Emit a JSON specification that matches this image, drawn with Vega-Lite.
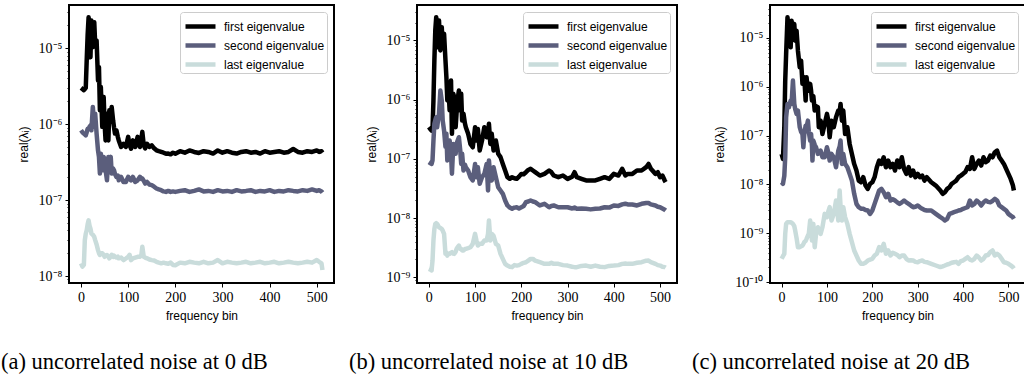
{
  "$schema": "https://vega.github.io/schema/vega-lite/v6.json",
  "padding": {"left": 0, "top": 4, "right": 0, "bottom": 0},
  "spacing": 13,
  "background": "white",
  "config": {
    "view": {"stroke": "black", "strokeWidth": 2},
    "axis": {"grid": false, "domain": false, "tickColor": "black", "labelFont": "Liberation Serif", "labelFontSize": 14, "labelColor": "black", "titleFont": "Liberation Sans", "titleFontSize": 12, "titleFontWeight": "normal", "titleColor": "black", "tickWidth": 1},
    "legend": {"orient": "top-right", "offset": 7, "title": null, "symbolType": "M-1.5,0H1.5", "symbolStrokeWidth": 4.5, "symbolSize": 400, "symbolOffset": 6, "labelFont": "Liberation Sans", "labelFontSize": 12, "labelColor": "black", "strokeColor": "#cccccc", "fillColor": "white", "cornerRadius": 3, "padding": 2, "rowPadding": 0, "labelOffset": 11},
    "title": {"font": "Liberation Serif", "fontSize": 22.5, "fontWeight": "normal", "color": "black"},
    "line": {"strokeWidth": 4.5, "strokeJoin": "round"}
  },
  "resolve": {"scale": {"color": "independent", "y": "independent"}, "legend": {"color": "independent"}},
  "datasets": {
    "a": [
      {"x":0,"first":3.0e-6,"second":8.3e-7,"last":1.47e-8},
      {"x":3,"first":2.9e-6,"second":7.8e-7,"last":1.33e-8},
      {"x":6,"first":2.8e-6,"second":7.5e-7,"last":1.4e-8},
      {"x":8,"first":2.9e-6,"second":7.3e-7,"last":2.97e-8},
      {"x":10,"first":3.0e-6,"second":7.1e-7,"last":3.6e-8},
      {"x":12,"first":6.9e-6,"second":7.8e-7,"last":4.0e-8},
      {"x":14,"first":1.5e-5,"second":8.7e-7,"last":4.8e-8},
      {"x":16,"first":2.55e-5,"second":8.7e-7,"last":5.4e-8},
      {"x":18,"first":1.89e-5,"second":9.2e-7,"last":4.6e-8},
      {"x":20,"first":7.6e-6,"second":9.6e-7,"last":4.2e-8},
      {"x":22,"first":2.31e-5,"second":8.3e-7,"last":3.63e-8},
      {"x":25,"first":1.03e-5,"second":1.68e-6,"last":3.5e-8},
      {"x":28,"first":2.2e-5,"second":9.2e-7,"last":3.28e-8},
      {"x":30,"first":1.14e-5,"second":1.37e-6,"last":2.97e-8},
      {"x":33,"first":1.26e-5,"second":7.5e-7,"last":2.6e-8},
      {"x":36,"first":3.76e-6,"second":4.5e-7,"last":2.19e-8},
      {"x":38,"first":5.62e-6,"second":3.7e-7,"last":2.0e-8},
      {"x":40,"first":1.52e-6,"second":2.23e-7,"last":1.89e-8},
      {"x":42,"first":3.08e-6,"second":4.08e-7,"last":2.0e-8},
      {"x":45,"first":9.2e-7,"second":2.47e-7,"last":1.99e-8},
      {"x":48,"first":2.27e-6,"second":3.7e-7,"last":1.9e-8},
      {"x":50,"first":1.0e-6,"second":3.34e-7,"last":1.79e-8},
      {"x":52,"first":6.1e-7,"second":2.5e-7,"last":1.85e-8},
      {"x":55,"first":1.37e-6,"second":1.82e-7,"last":1.89e-8},
      {"x":58,"first":6.1e-7,"second":3.7e-7,"last":1.8e-8},
      {"x":60,"first":1.52e-6,"second":3.0e-7,"last":1.71e-8},
      {"x":63,"first":1.2e-6,"second":3.7e-7,"last":1.8e-8},
      {"x":65,"first":1.68e-6,"second":2.23e-7,"last":1.9e-8},
      {"x":68,"first":1.12e-6,"second":2.6e-7,"last":1.79e-8},
      {"x":70,"first":9.0e-7,"second":2.47e-7,"last":1.85e-8},
      {"x":72,"first":7.5e-7,"second":2.2e-7,"last":1.79e-8},
      {"x":75,"first":8.3e-7,"second":2.02e-7,"last":1.75e-8},
      {"x":78,"first":6.8e-7,"second":2.1e-7,"last":1.8e-8},
      {"x":80,"first":6.1e-7,"second":1.82e-7,"last":1.71e-8},
      {"x":85,"first":5.0e-7,"second":2.02e-7,"last":1.75e-8},
      {"x":90,"first":5.5e-7,"second":1.73e-7,"last":1.62e-8},
      {"x":95,"first":5.0e-7,"second":1.73e-7,"last":1.7e-8},
      {"x":100,"first":6.8e-7,"second":2.02e-7,"last":1.79e-8},
      {"x":103,"first":5.3e-7,"second":1.9e-7,"last":1.9e-8},
      {"x":106,"first":4.75e-7,"second":1.82e-7,"last":1.62e-8},
      {"x":110,"first":6.1e-7,"second":2.02e-7,"last":1.71e-8},
      {"x":115,"first":5.0e-7,"second":1.73e-7,"last":1.75e-8},
      {"x":120,"first":6.8e-7,"second":1.82e-7,"last":1.79e-8},
      {"x":125,"first":5.0e-7,"second":2.02e-7,"last":1.79e-8},
      {"x":128,"first":6.5e-7,"second":1.9e-7,"last":1.9e-8},
      {"x":130,"first":7.9e-7,"second":1.92e-7,"last":2.43e-8},
      {"x":133,"first":5.3e-7,"second":1.8e-7,"last":1.79e-8},
      {"x":136,"first":4.8e-7,"second":1.65e-7,"last":1.75e-8},
      {"x":140,"first":5.5e-7,"second":1.73e-7,"last":1.71e-8},
      {"x":145,"first":5.0e-7,"second":1.6e-7,"last":1.65e-8},
      {"x":150,"first":5.26e-7,"second":1.57e-7,"last":1.62e-8},
      {"x":155,"first":4.8e-7,"second":1.5e-7,"last":1.6e-8},
      {"x":160,"first":4.52e-7,"second":1.42e-7,"last":1.54e-8},
      {"x":165,"first":4.4e-7,"second":1.38e-7,"last":1.5e-8},
      {"x":170,"first":4.3e-7,"second":1.35e-7,"last":1.47e-8},
      {"x":175,"first":4.2e-7,"second":1.3e-7,"last":1.5e-8},
      {"x":180,"first":4.08e-7,"second":1.28e-7,"last":1.47e-8},
      {"x":185,"first":4.1e-7,"second":1.32e-7,"last":1.45e-8},
      {"x":190,"first":4.0e-7,"second":1.28e-7,"last":1.5e-8},
      {"x":195,"first":4.2e-7,"second":1.3e-7,"last":1.4e-8},
      {"x":200,"first":4.08e-7,"second":1.28e-7,"last":1.39e-8},
      {"x":210,"first":4.4e-7,"second":1.32e-7,"last":1.5e-8},
      {"x":220,"first":4.2e-7,"second":1.35e-7,"last":1.47e-8},
      {"x":230,"first":4.5e-7,"second":1.28e-7,"last":1.54e-8},
      {"x":240,"first":4.3e-7,"second":1.32e-7,"last":1.5e-8},
      {"x":250,"first":4.17e-7,"second":1.38e-7,"last":1.47e-8},
      {"x":260,"first":4.4e-7,"second":1.3e-7,"last":1.54e-8},
      {"x":270,"first":4.3e-7,"second":1.32e-7,"last":1.47e-8},
      {"x":280,"first":4.1e-7,"second":1.28e-7,"last":1.5e-8},
      {"x":290,"first":4.5e-7,"second":1.35e-7,"last":1.62e-8},
      {"x":300,"first":4.2e-7,"second":1.3e-7,"last":1.47e-8},
      {"x":310,"first":4.4e-7,"second":1.32e-7,"last":1.54e-8},
      {"x":320,"first":4.2e-7,"second":1.28e-7,"last":1.5e-8},
      {"x":330,"first":4.1e-7,"second":1.35e-7,"last":1.47e-8},
      {"x":340,"first":4.3e-7,"second":1.3e-7,"last":1.5e-8},
      {"x":350,"first":4.4e-7,"second":1.32e-7,"last":1.54e-8},
      {"x":360,"first":4.2e-7,"second":1.35e-7,"last":1.47e-8},
      {"x":370,"first":4.3e-7,"second":1.28e-7,"last":1.5e-8},
      {"x":380,"first":4.1e-7,"second":1.32e-7,"last":1.54e-8},
      {"x":390,"first":4.4e-7,"second":1.3e-7,"last":1.47e-8},
      {"x":400,"first":4.2e-7,"second":1.35e-7,"last":1.5e-8},
      {"x":410,"first":4.3e-7,"second":1.28e-7,"last":1.54e-8},
      {"x":420,"first":4.4e-7,"second":1.32e-7,"last":1.47e-8},
      {"x":430,"first":4.2e-7,"second":1.3e-7,"last":1.5e-8},
      {"x":440,"first":4.3e-7,"second":1.35e-7,"last":1.54e-8},
      {"x":450,"first":4.7e-7,"second":1.32e-7,"last":1.5e-8},
      {"x":460,"first":4.3e-7,"second":1.3e-7,"last":1.47e-8},
      {"x":470,"first":4.2e-7,"second":1.35e-7,"last":1.5e-8},
      {"x":480,"first":4.4e-7,"second":1.32e-7,"last":1.54e-8},
      {"x":490,"first":4.3e-7,"second":1.38e-7,"last":1.5e-8},
      {"x":500,"first":4.5e-7,"second":1.32e-7,"last":1.62e-8},
      {"x":505,"first":4.3e-7,"second":1.35e-7,"last":1.54e-8},
      {"x":510,"first":4.4e-7,"second":1.3e-7,"last":1.47e-8},
      {"x":512,"first":4.2e-7,"second":1.25e-7,"last":1.2e-8}
    ],
    "b": [
      {"x":0,"first":3.43e-7,"second":8.8e-8,"last":1.38e-9},
      {"x":3,"first":3.2e-7,"second":8.5e-8,"last":1.35e-9},
      {"x":6,"first":3.0e-7,"second":8.2e-8,"last":1.3e-9},
      {"x":8,"first":3.2e-7,"second":9.4e-8,"last":1.91e-9},
      {"x":10,"first":9.7e-7,"second":2.04e-7,"last":4.17e-9},
      {"x":12,"first":4.6e-6,"second":3.9e-7,"last":6.5e-9},
      {"x":14,"first":1.5e-5,"second":4.5e-7,"last":7.96e-9},
      {"x":16,"first":2.48e-5,"second":5.06e-7,"last":8.2e-9},
      {"x":18,"first":1.48e-5,"second":3.43e-7,"last":7.96e-9},
      {"x":20,"first":7.7e-6,"second":4.5e-7,"last":7.5e-9},
      {"x":22,"first":2.18e-5,"second":5.77e-7,"last":7.0e-9},
      {"x":25,"first":6.8e-6,"second":1.43e-6,"last":6.8e-9},
      {"x":28,"first":1.68e-5,"second":9.7e-7,"last":6.5e-9},
      {"x":30,"first":7.7e-6,"second":4.45e-7,"last":6.15e-9},
      {"x":33,"first":1.3e-5,"second":3.0e-7,"last":5.4e-9},
      {"x":36,"first":4.6e-6,"second":1.6e-7,"last":2.48e-9},
      {"x":38,"first":2.4e-6,"second":2.65e-7,"last":2.6e-9},
      {"x":40,"first":9.7e-7,"second":9.4e-8,"last":2.32e-9},
      {"x":42,"first":1.85e-6,"second":1.57e-7,"last":2.5e-9},
      {"x":45,"first":6.6e-7,"second":2.04e-7,"last":2.48e-9},
      {"x":48,"first":2.11e-6,"second":1.22e-7,"last":2.6e-9},
      {"x":50,"first":2.65e-7,"second":5.6e-8,"last":2.65e-9},
      {"x":53,"first":1.26e-6,"second":1.79e-7,"last":2.5e-9},
      {"x":55,"first":1.1e-6,"second":1.4e-7,"last":2.48e-9},
      {"x":58,"first":3.43e-7,"second":1.22e-7,"last":2.7e-9},
      {"x":60,"first":6.0e-7,"second":1.79e-7,"last":3.01e-9},
      {"x":62,"first":9.7e-7,"second":2.0e-7,"last":3.2e-9},
      {"x":65,"first":1.43e-6,"second":2.32e-7,"last":3.43e-9},
      {"x":68,"first":6.56e-7,"second":1.38e-7,"last":3.0e-9},
      {"x":70,"first":1.26e-6,"second":8.2e-8,"last":3.01e-9},
      {"x":72,"first":4.45e-7,"second":1.22e-7,"last":2.83e-9},
      {"x":75,"first":5.77e-7,"second":6.35e-8,"last":2.83e-9},
      {"x":78,"first":4.0e-7,"second":8.0e-8,"last":3.0e-9},
      {"x":80,"first":3.43e-7,"second":7.23e-8,"last":3.01e-9},
      {"x":85,"first":2.65e-7,"second":6.35e-8,"last":3.1e-9},
      {"x":90,"first":1.79e-7,"second":4.9e-8,"last":3.21e-9},
      {"x":95,"first":1.57e-7,"second":4.31e-8,"last":3.66e-9},
      {"x":100,"first":3.43e-7,"second":8.2e-8,"last":5.4e-9},
      {"x":103,"first":2.04e-7,"second":4.9e-8,"last":4.17e-9},
      {"x":106,"first":3.2e-7,"second":7.2e-8,"last":3.43e-9},
      {"x":110,"first":1.38e-7,"second":3.78e-8,"last":3.66e-9},
      {"x":115,"first":2.04e-7,"second":4.9e-8,"last":3.66e-9},
      {"x":120,"first":3.43e-7,"second":5.57e-8,"last":4.17e-9},
      {"x":125,"first":2.32e-7,"second":8.2e-8,"last":4.17e-9},
      {"x":128,"first":2.8e-7,"second":2.92e-8,"last":5.4e-9},
      {"x":130,"first":3.91e-7,"second":9.4e-8,"last":9.1e-9},
      {"x":133,"first":1.79e-7,"second":5.0e-8,"last":4.17e-9},
      {"x":136,"first":2.65e-7,"second":4.31e-8,"last":5.4e-9},
      {"x":140,"first":1.38e-7,"second":7.2e-8,"last":5.0e-9},
      {"x":145,"first":2.04e-7,"second":4.9e-8,"last":3.66e-9},
      {"x":150,"first":1.22e-7,"second":3.32e-8,"last":3.43e-9},
      {"x":155,"first":1.07e-7,"second":2.92e-8,"last":2.48e-9},
      {"x":160,"first":8.2e-8,"second":2.56e-8,"last":2.04e-9},
      {"x":165,"first":6.35e-8,"second":1.98e-8,"last":1.68e-9},
      {"x":170,"first":4.9e-8,"second":1.63e-8,"last":1.57e-9},
      {"x":175,"first":4.6e-8,"second":1.5e-8,"last":1.5e-9},
      {"x":180,"first":4.9e-8,"second":1.43e-8,"last":1.48e-9},
      {"x":185,"first":4.7e-8,"second":1.5e-8,"last":1.6e-9},
      {"x":190,"first":4.59e-8,"second":1.52e-8,"last":1.57e-9},
      {"x":195,"first":5.0e-8,"second":1.45e-8,"last":1.6e-9},
      {"x":200,"first":5.57e-8,"second":1.52e-8,"last":1.68e-9},
      {"x":205,"first":5.5e-8,"second":1.6e-8,"last":1.75e-9},
      {"x":210,"first":5.95e-8,"second":1.85e-8,"last":1.79e-9},
      {"x":215,"first":6.5e-8,"second":1.9e-8,"last":1.91e-9},
      {"x":220,"first":6.78e-8,"second":1.98e-8,"last":2.04e-9},
      {"x":225,"first":6.35e-8,"second":1.9e-8,"last":2.04e-9},
      {"x":230,"first":5.95e-8,"second":1.85e-8,"last":1.9e-9},
      {"x":240,"first":5.23e-8,"second":1.63e-8,"last":1.79e-9},
      {"x":250,"first":5.57e-8,"second":1.74e-8,"last":1.68e-9},
      {"x":260,"first":6.35e-8,"second":1.52e-8,"last":1.68e-9},
      {"x":265,"first":5.95e-8,"second":1.6e-8,"last":1.75e-9},
      {"x":270,"first":5.23e-8,"second":1.63e-8,"last":1.68e-9},
      {"x":280,"first":4.9e-8,"second":1.52e-8,"last":1.68e-9},
      {"x":290,"first":5.23e-8,"second":1.52e-8,"last":1.6e-9},
      {"x":300,"first":4.59e-8,"second":1.52e-8,"last":1.57e-9},
      {"x":310,"first":5.0e-8,"second":1.45e-8,"last":1.5e-9},
      {"x":315,"first":5.95e-8,"second":1.5e-8,"last":1.48e-9},
      {"x":320,"first":4.9e-8,"second":1.43e-8,"last":1.48e-9},
      {"x":330,"first":4.59e-8,"second":1.45e-8,"last":1.55e-9},
      {"x":340,"first":4.31e-8,"second":1.43e-8,"last":1.57e-9},
      {"x":350,"first":4.31e-8,"second":1.4e-8,"last":1.5e-9},
      {"x":360,"first":4.31e-8,"second":1.43e-8,"last":1.57e-9},
      {"x":370,"first":4.59e-8,"second":1.45e-8,"last":1.5e-9},
      {"x":380,"first":4.9e-8,"second":1.52e-8,"last":1.48e-9},
      {"x":390,"first":4.59e-8,"second":1.5e-8,"last":1.55e-9},
      {"x":400,"first":5.57e-8,"second":1.63e-8,"last":1.57e-9},
      {"x":410,"first":5.23e-8,"second":1.6e-8,"last":1.6e-9},
      {"x":418,"first":6.78e-8,"second":1.7e-8,"last":1.68e-9},
      {"x":425,"first":5.23e-8,"second":1.74e-8,"last":1.7e-9},
      {"x":430,"first":5.57e-8,"second":1.7e-8,"last":1.68e-9},
      {"x":440,"first":5.57e-8,"second":1.69e-8,"last":1.68e-9},
      {"x":450,"first":6.35e-8,"second":1.63e-8,"last":1.75e-9},
      {"x":460,"first":6.35e-8,"second":1.74e-8,"last":1.79e-9},
      {"x":470,"first":7.23e-8,"second":1.79e-8,"last":1.9e-9},
      {"x":475,"first":8.2e-8,"second":1.79e-8,"last":1.91e-9},
      {"x":480,"first":6.78e-8,"second":1.7e-8,"last":1.8e-9},
      {"x":490,"first":5.57e-8,"second":1.63e-8,"last":1.68e-9},
      {"x":495,"first":5.95e-8,"second":1.55e-8,"last":1.6e-9},
      {"x":500,"first":4.9e-8,"second":1.52e-8,"last":1.57e-9},
      {"x":505,"first":5.23e-8,"second":1.45e-8,"last":1.5e-9},
      {"x":510,"first":4.3e-8,"second":1.38e-8,"last":1.48e-9},
      {"x":512,"first":4.04e-8,"second":1.34e-8,"last":1.45e-9}
    ],
    "c": [
      {"x":0,"first":4.23e-8,"second":1.11e-8,"last":3.0e-10},
      {"x":3,"first":3.34e-8,"second":1.03e-8,"last":3.4e-10},
      {"x":6,"first":1.49e-7,"second":1.5e-8,"last":3.8e-10},
      {"x":8,"first":1.34e-6,"second":3.61e-8,"last":9.75e-10},
      {"x":10,"first":4.71e-6,"second":2.38e-7,"last":1.56e-9},
      {"x":13,"first":2.65e-5,"second":4.46e-7,"last":1.69e-9},
      {"x":16,"first":1.41e-5,"second":3.81e-7,"last":1.69e-9},
      {"x":20,"first":6.44e-6,"second":5.22e-7,"last":1.69e-9},
      {"x":22,"first":2.26e-5,"second":4.5e-7,"last":1.65e-9},
      {"x":25,"first":1.21e-5,"second":1.34e-6,"last":1.56e-9},
      {"x":28,"first":1.93e-5,"second":4.46e-7,"last":1.4e-9},
      {"x":30,"first":8.82e-6,"second":3.5e-7,"last":1.14e-9},
      {"x":33,"first":1.41e-5,"second":2.79e-7,"last":8.0e-10},
      {"x":36,"first":5.5e-6,"second":3.26e-7,"last":5.2e-10},
      {"x":40,"first":2.51e-6,"second":1.49e-7,"last":5.2e-10},
      {"x":43,"first":3.44e-6,"second":1.2e-7,"last":5.4e-10},
      {"x":46,"first":1.15e-6,"second":1.08e-7,"last":5.62e-10},
      {"x":48,"first":1.57e-6,"second":5.79e-8,"last":6.0e-10},
      {"x":50,"first":1.57e-6,"second":1.08e-7,"last":6.59e-10},
      {"x":53,"first":5.22e-7,"second":1.6e-7,"last":7.0e-10},
      {"x":55,"first":1.57e-6,"second":1.49e-7,"last":7.71e-10},
      {"x":58,"first":8.35e-7,"second":2.03e-7,"last":9.0e-10},
      {"x":60,"first":8.35e-7,"second":1.2e-7,"last":9.75e-10},
      {"x":63,"first":1.15e-6,"second":7.92e-8,"last":1.83e-9},
      {"x":65,"first":8.35e-7,"second":1.08e-7,"last":1.2e-9},
      {"x":67,"first":5.22e-7,"second":6.0e-8,"last":7.13e-10},
      {"x":68,"first":6.0e-7,"second":3.09e-8,"last":9.0e-10},
      {"x":70,"first":6.44e-7,"second":7.92e-8,"last":1.56e-9},
      {"x":73,"first":3.26e-7,"second":6.5e-8,"last":5.2e-10},
      {"x":76,"first":4.0e-7,"second":5.79e-8,"last":9.75e-10},
      {"x":80,"first":3.81e-7,"second":4.23e-8,"last":1.33e-9},
      {"x":82,"first":1.49e-7,"second":4.5e-8,"last":1.2e-9},
      {"x":86,"first":2.03e-7,"second":4.94e-8,"last":9.75e-10},
      {"x":90,"first":1.08e-7,"second":3.61e-8,"last":1.33e-9},
      {"x":95,"first":1.74e-7,"second":3.61e-8,"last":2.5e-9},
      {"x":100,"first":2.79e-7,"second":5.79e-8,"last":2.14e-9},
      {"x":103,"first":2.03e-7,"second":4.5e-8,"last":2.8e-9},
      {"x":106,"first":9.27e-8,"second":3.09e-8,"last":3.43e-9},
      {"x":110,"first":2.03e-7,"second":4.23e-8,"last":1.83e-9},
      {"x":115,"first":1.49e-7,"second":3.61e-8,"last":2.5e-9},
      {"x":120,"first":2.38e-7,"second":2.26e-8,"last":4.69e-9},
      {"x":125,"first":3.26e-7,"second":4.94e-8,"last":1.83e-9},
      {"x":128,"first":3.0e-7,"second":6.0e-8,"last":7.52e-9},
      {"x":130,"first":4.46e-7,"second":7.92e-8,"last":3.5e-9},
      {"x":133,"first":2.03e-7,"second":2.64e-8,"last":1.83e-9},
      {"x":136,"first":3.26e-7,"second":4.23e-8,"last":3.43e-9},
      {"x":140,"first":1.08e-7,"second":2.64e-8,"last":2.14e-9},
      {"x":145,"first":1.49e-7,"second":2.26e-8,"last":1.56e-9},
      {"x":150,"first":6.77e-8,"second":1.65e-8,"last":9.75e-10},
      {"x":155,"first":4.23e-8,"second":1.2e-8,"last":6.59e-10},
      {"x":160,"first":2.64e-8,"second":6.43e-9,"last":4.45e-10},
      {"x":165,"first":1.93e-8,"second":4.01e-9,"last":3.51e-10},
      {"x":170,"first":1.2e-8,"second":3.43e-9,"last":2.77e-10},
      {"x":175,"first":1.11e-8,"second":3.2e-9,"last":2.37e-10},
      {"x":180,"first":1.41e-8,"second":3.17e-9,"last":2.37e-10},
      {"x":185,"first":9.5e-9,"second":3.0e-9,"last":2.5e-10},
      {"x":190,"first":8.12e-9,"second":2.93e-9,"last":2.77e-10},
      {"x":195,"first":1.03e-8,"second":2.5e-9,"last":2.9e-10},
      {"x":200,"first":1.11e-8,"second":2.93e-9,"last":3.0e-10},
      {"x":205,"first":1.41e-8,"second":4.01e-9,"last":3.5e-10},
      {"x":210,"first":2.26e-8,"second":5.49e-9,"last":3.8e-10},
      {"x":215,"first":3.09e-8,"second":7.52e-9,"last":5.2e-10},
      {"x":220,"first":2.64e-8,"second":8.12e-9,"last":4.45e-10},
      {"x":225,"first":3.61e-8,"second":6.95e-9,"last":6.08e-10},
      {"x":230,"first":2.26e-8,"second":5.49e-9,"last":3.8e-10},
      {"x":235,"first":3.09e-8,"second":6.43e-9,"last":4.45e-10},
      {"x":240,"first":2.26e-8,"second":4.69e-9,"last":3.51e-10},
      {"x":245,"first":2.64e-8,"second":5.0e-9,"last":4.0e-10},
      {"x":250,"first":1.93e-8,"second":4.69e-9,"last":3.8e-10},
      {"x":255,"first":3.09e-8,"second":4.3e-9,"last":3.6e-10},
      {"x":260,"first":2.26e-8,"second":4.01e-9,"last":3.24e-10},
      {"x":265,"first":3.61e-8,"second":4.3e-9,"last":3.5e-10},
      {"x":270,"first":2.08e-8,"second":4.69e-9,"last":3.51e-10},
      {"x":275,"first":1.65e-8,"second":4.3e-9,"last":3.0e-10},
      {"x":280,"first":2.26e-8,"second":4.01e-9,"last":2.77e-10},
      {"x":285,"first":1.52e-8,"second":3.7e-9,"last":2.8e-10},
      {"x":290,"first":1.93e-8,"second":3.43e-9,"last":2.77e-10},
      {"x":295,"first":1.41e-8,"second":3.5e-9,"last":2.6e-10},
      {"x":300,"first":1.65e-8,"second":3.71e-9,"last":2.56e-10},
      {"x":305,"first":1.41e-8,"second":3.4e-9,"last":2.7e-10},
      {"x":310,"first":1.52e-8,"second":3.17e-9,"last":2.77e-10},
      {"x":315,"first":1.2e-8,"second":3.0e-9,"last":2.6e-10},
      {"x":320,"first":1.41e-8,"second":2.93e-9,"last":2.56e-10},
      {"x":330,"first":1.11e-8,"second":2.93e-9,"last":2.37e-10},
      {"x":340,"first":9.5e-9,"second":2.5e-9,"last":2.19e-10},
      {"x":350,"first":7.52e-9,"second":2.14e-9,"last":2.03e-10},
      {"x":355,"first":6.43e-9,"second":2.0e-9,"last":2.1e-10},
      {"x":360,"first":6.95e-9,"second":1.83e-9,"last":2.19e-10},
      {"x":365,"first":8.12e-9,"second":1.98e-9,"last":2.3e-10},
      {"x":370,"first":8.8e-9,"second":2.5e-9,"last":2.37e-10},
      {"x":375,"first":1.03e-8,"second":2.6e-9,"last":2.5e-10},
      {"x":380,"first":1.11e-8,"second":2.71e-9,"last":2.56e-10},
      {"x":385,"first":1.2e-8,"second":2.8e-9,"last":2.6e-10},
      {"x":390,"first":1.41e-8,"second":2.93e-9,"last":2.37e-10},
      {"x":395,"first":1.52e-8,"second":3.0e-9,"last":2.7e-10},
      {"x":400,"first":1.65e-8,"second":3.17e-9,"last":2.77e-10},
      {"x":405,"first":1.8e-8,"second":3.3e-9,"last":3.0e-10},
      {"x":410,"first":2.26e-8,"second":3.43e-9,"last":3.24e-10},
      {"x":415,"first":2.08e-8,"second":4.69e-9,"last":2.9e-10},
      {"x":420,"first":3.61e-8,"second":3.71e-9,"last":2.77e-10},
      {"x":425,"first":2.08e-8,"second":4.01e-9,"last":3.0e-10},
      {"x":430,"first":2.64e-8,"second":4.69e-9,"last":3.51e-10},
      {"x":435,"first":3.09e-8,"second":4.3e-9,"last":3.2e-10},
      {"x":440,"first":2.44e-8,"second":3.71e-9,"last":2.77e-10},
      {"x":445,"first":3.61e-8,"second":4.3e-9,"last":3.0e-10},
      {"x":450,"first":2.86e-8,"second":4.69e-9,"last":3.51e-10},
      {"x":455,"first":3.09e-8,"second":4.4e-9,"last":3.6e-10},
      {"x":460,"first":3.91e-8,"second":4.34e-9,"last":4.11e-10},
      {"x":465,"first":3.61e-8,"second":4.6e-9,"last":4.45e-10},
      {"x":470,"first":4.57e-8,"second":5.07e-9,"last":3.51e-10},
      {"x":475,"first":4.94e-8,"second":4.69e-9,"last":3.8e-10},
      {"x":480,"first":3.61e-8,"second":3.71e-9,"last":3.51e-10},
      {"x":485,"first":3.09e-8,"second":3.43e-9,"last":3.0e-10},
      {"x":490,"first":2.64e-8,"second":3.17e-9,"last":2.56e-10},
      {"x":495,"first":2.08e-8,"second":2.93e-9,"last":2.5e-10},
      {"x":500,"first":1.65e-8,"second":2.5e-9,"last":2.37e-10},
      {"x":505,"first":1.3e-8,"second":2.3e-9,"last":2.2e-10},
      {"x":510,"first":9.5e-9,"second":2.14e-9,"last":2.03e-10},
      {"x":512,"first":7.52e-9,"second":1.98e-9,"last":1.9e-10}
    ]
  },
  "hconcat": [
    {
      "width": 265, "height": 278,
      "data": {"name": "a"},
      "title": {"text": "(a) uncorrelated noise at 0 dB", "orient": "bottom", "anchor": "start", "frame": "group", "dx": -68, "offset": 30},
      "transform": [{"fold": ["first", "second", "last"], "as": ["s", "v"]}],
      "mark": {"type": "line", "strokeWidth": 4.5, "strokeJoin": "round"},
      "encoding": {
        "x": {"field": "x", "type": "quantitative", "scale": {"domain": [-25.55, 536.55], "nice": false, "zero": false},
              "axis": {"values": [0, 100, 200, 300, 400, 500], "title": "frequency bin", "tickSize": 4, "labelPadding": 3, "titlePadding": 6}},
        "y": {"field": "v", "type": "quantitative", "scale": {"type": "log", "domain": [8.09e-9, 3.7e-5], "nice": false},
              "axis": {"values": [9e-9, 1e-8, 2e-8, 3e-8, 4e-8, 5e-8, 6e-8, 7e-8, 8e-8, 9e-8, 1e-7, 2e-7, 3e-7, 4e-7, 5e-7, 6e-7, 7e-7, 8e-7, 9e-7, 1e-6, 2e-6, 3e-6, 4e-6, 5e-6, 6e-6, 7e-6, 8e-6, 9e-6, 1e-5, 2e-5, 3e-5],
                       "labelExpr": "indexof([1e-5,1e-6,1e-7,1e-8,1e-9,1e-10], datum.value) < 0 ? '' : '10' + ['⁻⁵','⁻⁶','⁻⁷','⁻⁸','⁻⁹','⁻¹⁰'][indexof([1e-5,1e-6,1e-7,1e-8,1e-9,1e-10], datum.value)]",
                       "tickSize": {"condition": {"test": "indexof([1e-5,1e-6,1e-7,1e-8,1e-9,1e-10], datum.value) >= 0", "value": 4}, "value": 2},
                       "labelPadding": 3, "title": "real(λᵢ)", "titlePadding": 8}},
        "color": {"field": "s", "type": "nominal", "scale": {"domain": ["first", "second", "last"], "range": ["#000000", "#5b5e7c", "#c9dcdb"]}, "legend": {"labelExpr": "datum.label + ' eigenvalue'"}}
      }
    },
    {
      "width": 260, "height": 278,
      "data": {"name": "b"},
      "title": {"text": "(b) uncorrelated noise at 10 dB", "orient": "bottom", "anchor": "start", "frame": "group", "dx": -68, "offset": 30},
      "transform": [{"fold": ["first", "second", "last"], "as": ["s", "v"]}],
      "mark": {"type": "line", "strokeWidth": 4.5, "strokeJoin": "round"},
      "encoding": {
        "x": {"field": "x", "type": "quantitative", "scale": {"domain": [-25.55, 536.55], "nice": false, "zero": false},
              "axis": {"values": [0, 100, 200, 300, 400, 500], "title": "frequency bin", "tickSize": 4, "labelPadding": 3, "titlePadding": 6}},
        "y": {"field": "v", "type": "quantitative", "scale": {"type": "log", "domain": [7.98e-10, 3.98e-5], "nice": false},
              "axis": {"values": [9e-10, 1e-9, 2e-9, 3e-9, 4e-9, 5e-9, 6e-9, 7e-9, 8e-9, 9e-9, 1e-8, 2e-8, 3e-8, 4e-8, 5e-8, 6e-8, 7e-8, 8e-8, 9e-8, 1e-7, 2e-7, 3e-7, 4e-7, 5e-7, 6e-7, 7e-7, 8e-7, 9e-7, 1e-6, 2e-6, 3e-6, 4e-6, 5e-6, 6e-6, 7e-6, 8e-6, 9e-6, 1e-5, 2e-5, 3e-5],
                       "labelExpr": "indexof([1e-5,1e-6,1e-7,1e-8,1e-9,1e-10], datum.value) < 0 ? '' : '10' + ['⁻⁵','⁻⁶','⁻⁷','⁻⁸','⁻⁹','⁻¹⁰'][indexof([1e-5,1e-6,1e-7,1e-8,1e-9,1e-10], datum.value)]",
                       "tickSize": {"condition": {"test": "indexof([1e-5,1e-6,1e-7,1e-8,1e-9,1e-10], datum.value) >= 0", "value": 4}, "value": 2},
                       "labelPadding": 3, "title": "real(λᵢ)", "titlePadding": 8}},
        "color": {"field": "s", "type": "nominal", "scale": {"domain": ["first", "second", "last"], "range": ["#000000", "#5b5e7c", "#c9dcdb"]}, "legend": {"labelExpr": "datum.label + ' eigenvalue'"}}
      }
    },
    {
      "width": 255, "height": 278,
      "data": {"name": "c"},
      "title": {"text": "(c) uncorrelated noise at 20 dB", "orient": "bottom", "anchor": "start", "frame": "group", "dx": -78, "offset": 30},
      "transform": [{"fold": ["first", "second", "last"], "as": ["s", "v"]}],
      "mark": {"type": "line", "strokeWidth": 4.5, "strokeJoin": "round"},
      "encoding": {
        "x": {"field": "x", "type": "quantitative", "scale": {"domain": [-25.55, 536.55], "nice": false, "zero": false},
              "axis": {"values": [0, 100, 200, 300, 400, 500], "title": "frequency bin", "tickSize": 4, "labelPadding": 3, "titlePadding": 6}},
        "y": {"field": "v", "type": "quantitative", "scale": {"type": "log", "domain": [9.6e-11, 4.74e-5], "nice": false},
              "axis": {"values": [1e-10, 2e-10, 3e-10, 4e-10, 5e-10, 6e-10, 7e-10, 8e-10, 9e-10, 1e-9, 2e-9, 3e-9, 4e-9, 5e-9, 6e-9, 7e-9, 8e-9, 9e-9, 1e-8, 2e-8, 3e-8, 4e-8, 5e-8, 6e-8, 7e-8, 8e-8, 9e-8, 1e-7, 2e-7, 3e-7, 4e-7, 5e-7, 6e-7, 7e-7, 8e-7, 9e-7, 1e-6, 2e-6, 3e-6, 4e-6, 5e-6, 6e-6, 7e-6, 8e-6, 9e-6, 1e-5, 2e-5, 3e-5, 4e-5],
                       "labelExpr": "indexof([1e-5,1e-6,1e-7,1e-8,1e-9,1e-10], datum.value) < 0 ? '' : '10' + ['⁻⁵','⁻⁶','⁻⁷','⁻⁸','⁻⁹','⁻¹⁰'][indexof([1e-5,1e-6,1e-7,1e-8,1e-9,1e-10], datum.value)]",
                       "tickSize": {"condition": {"test": "indexof([1e-5,1e-6,1e-7,1e-8,1e-9,1e-10], datum.value) >= 0", "value": 4}, "value": 2},
                       "labelPadding": 3, "title": "real(λᵢ)", "titlePadding": 8}},
        "color": {"field": "s", "type": "nominal", "scale": {"domain": ["first", "second", "last"], "range": ["#000000", "#5b5e7c", "#c9dcdb"]}, "legend": {"labelExpr": "datum.label + ' eigenvalue'"}}
      }
    }
  ]
}
